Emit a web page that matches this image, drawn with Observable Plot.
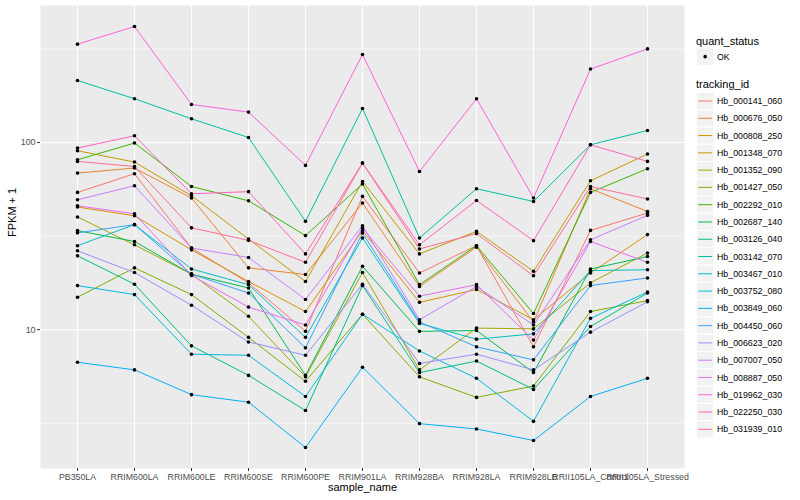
<!DOCTYPE html>
<html>
<head>
<meta charset="utf-8">
<script src="https://cdn.jsdelivr.net/npm/d3@7"></script>
<script src="https://cdn.jsdelivr.net/npm/@observablehq/plot@0.6"></script>
<style>
  body { margin: 0; background: #ffffff; }
  #wrap { position: relative; width: 800px; height: 500px; font-family: "Liberation Sans", Arial, Helvetica, sans-serif; }
</style>
</head>
<body>
<div id="wrap"></div>
<script>
// ---- data ----
const samples = ["PB350LA","RRIM600LA","RRIM600LE","RRIM600SE","RRIM600PE","RRIM901LA","RRIM928BA","RRIM928LA","RRIM928LB","RRII105LA_Control","RRII105LA_Stressed"];

const trackingIds = ["Hb_000141_060","Hb_000676_050","Hb_000808_250","Hb_001348_070","Hb_001352_090","Hb_001427_050","Hb_002292_010","Hb_002687_140","Hb_003126_040","Hb_003142_070","Hb_003467_010","Hb_003752_080","Hb_003849_060","Hb_004450_060","Hb_006623_020","Hb_007007_050","Hb_008887_050","Hb_019962_030","Hb_022250_030","Hb_031939_010"];

const seriesColors = ["#F8766D","#EA8331","#D89000","#C09B00","#A3A500","#7CAE00","#39B600","#00BB4E","#00BF7D","#00C1A3","#00BFC4","#00BAE0","#00B0F6","#35A2FF","#9590FF","#C77CFF","#E76BF3","#FA62DB","#FF62BC","#FF6C91"];

// FPKM + 1 per sample (order of `samples`)
const Hb_000141_060 = [54.1, 68.1, 27.3, 17.8, 9.8, 51.5, 20.1, 28.1, 8.1, 33.9, 42.0];
const Hb_000676_050 = [68.6, 73.0, 50.5, 21.4, 19.7, 47.5, 17.0, 27.6, 11.0, 56.6, 42.8];
const Hb_000808_250 = [45.2, 40.6, 26.7, 18.1, 12.5, 33.8, 14.0, 16.4, 11.3, 20.1, 32.2];
const Hb_001348_070 = [90.3, 78.6, 51.9, 30.5, 18.1, 61.9, 25.4, 33.5, 20.5, 62.4, 86.7];
const Hb_001352_090 = [40.0, 28.4, 19.8, 11.8, 5.6, 20.2, 6.1, 10.2, 10.1, 17.8, 25.7];
const Hb_001427_050 = [14.9, 21.4, 15.4, 9.1, 5.3, 12.1, 5.6, 4.35, 5.0, 12.5, 14.3];
const Hb_002292_010 = [80.8, 99.3, 58.2, 48.8, 31.8, 60.0, 17.4, 28.1, 12.2, 54.1, 72.4];
const Hb_002687_140 = [33.8, 29.6, 19.8, 16.7, 5.7, 21.8, 9.8, 9.9, 5.9, 21.1, 24.6];
const Hb_003126_040 = [24.8, 17.5, 8.2, 5.7, 3.7, 17.2, 5.9, 6.8, 4.8, 10.4, 15.7];
const Hb_003142_070 = [214.3, 171.2, 133.8, 106.3, 37.9, 151.9, 30.9, 56.6, 48.4, 97.2, 115.9];
const Hb_003467_010 = [28.1, 36.4, 21.1, 17.4, 9.1, 30.9, 10.8, 8.9, 9.5, 20.7, 20.9];
const Hb_003752_080 = [17.2, 15.4, 7.4, 7.3, 4.4, 12.1, 7.7, 5.5, 3.24, 11.5, 15.9];
const Hb_003849_060 = [6.7, 6.1, 4.5, 4.1, 2.35, 6.3, 3.15, 2.95, 2.56, 4.4, 5.5];
const Hb_004450_060 = [32.9, 36.4, 19.8, 15.7, 8.0, 32.8, 11.0, 8.1, 6.9, 17.2, 18.9];
const Hb_006623_020 = [26.4, 20.2, 13.5, 8.6, 7.3, 17.5, 6.6, 7.4, 6.1, 9.7, 14.1];
const Hb_007007_050 = [49.4, 58.7, 27.3, 24.3, 14.5, 35.9, 11.3, 17.0, 10.6, 30.2, 40.8];
const Hb_008887_050 = [45.9, 41.6, 19.5, 13.2, 10.6, 34.9, 15.1, 17.4, 8.8, 29.6, 22.9];
const Hb_019962_030 = [335, 416, 159.6, 145.3, 75.4, 295, 70.0, 171.2, 50.5, 246.6, 316];
const Hb_022250_030 = [93.3, 108.6, 53.2, 54.6, 25.4, 77.6, 28.4, 49.0, 29.9, 97.2, 79.2];
const Hb_031939_010 = [79.2, 74.4, 35.0, 30.0, 22.9, 77.6, 27.0, 32.6, 19.4, 58.2, 49.9];

const yMajorTicks = [10, 100];
const yMinorTicks = [Math.sqrt(10), Math.sqrt(1000), Math.sqrt(100000)];

// ---- build tidy table ----
const seriesValues = [Hb_000141_060, Hb_000676_050, Hb_000808_250, Hb_001348_070, Hb_001352_090, Hb_001427_050, Hb_002292_010, Hb_002687_140, Hb_003126_040, Hb_003142_070, Hb_003467_010, Hb_003752_080, Hb_003849_060, Hb_004450_060, Hb_006623_020, Hb_007007_050, Hb_008887_050, Hb_019962_030, Hb_022250_030, Hb_031939_010];

const table = trackingIds.flatMap((id, i) =>
  seriesValues[i].map((v, j) => ({ id, sample: samples[j], value: v }))
);

const logs = table.map(d => Math.log10(d.value));
const lo = d3.min(logs), hi = d3.max(logs), pad = (hi - lo) * 0.05;

const font = "Liberation Sans, Arial, Helvetica, sans-serif";

const chart = Plot.plot({
  width: 800,
  height: 500,
  marginLeft: 40,
  marginRight: 116,
  marginTop: 5,
  marginBottom: 32,
  style: { fontFamily: font, fontSize: "8.8px", background: "white", overflow: "visible" },
  x: { type: "point", domain: samples, padding: 0.6, label: null },
  y: { type: "log", domain: [10 ** (lo - pad), 10 ** (hi + pad)], label: null },
  color: { domain: trackingIds, range: seriesColors },
  marks: [
    Plot.frame({ fill: "#EBEBEB", stroke: null }),
    Plot.ruleY(yMinorTicks, { stroke: "white", strokeWidth: 0.55 }),
    Plot.ruleY(yMajorTicks, { stroke: "white", strokeWidth: 1.1 }),
    Plot.ruleX(samples, { stroke: "white", strokeWidth: 1.1 }),
    Plot.line(table, { x: "sample", y: "value", z: "id", stroke: "id", strokeWidth: 1 }),
    Plot.dot(table, { x: "sample", y: "value", r: 1.8, fill: "black", stroke: null }),
    Plot.axisX({ tickSize: 3, tickPadding: 2, stroke: "#333333", fill: "#4D4D4D", label: null }),
    Plot.axisY({ ticks: yMajorTicks, tickFormat: d => String(d), tickSize: 3, tickPadding: 2, stroke: "#333333", fill: "#4D4D4D", label: null }),
    Plot.text(["sample_name"], { text: d => d, frameAnchor: "bottom", dy: 22, fontSize: 11, fill: "black" }),
    Plot.text(["FPKM + 1"], { text: d => d, frameAnchor: "left", dx: -28, rotate: -90, fontSize: 11, fill: "black" })
  ]
});

const wrap = document.getElementById("wrap");
wrap.appendChild(chart);

// ---- legend (right side) ----
const leg = d3.select(wrap).append("svg")
  .attr("width", 110).attr("height", 500)
  .style("position", "absolute").style("left", "690px").style("top", "0px")
  .style("font-family", font);

leg.append("text").attr("x", 6).attr("y", 44.5).attr("font-size", 11).attr("fill", "black").text("quant_status");
leg.append("rect").attr("x", 6.5).attr("y", 48).attr("width", 17.28).attr("height", 17.28)
  .attr("fill", "#F2F2F2").attr("stroke", "white").attr("stroke-width", 1);
leg.append("circle").attr("cx", 15.14).attr("cy", 56.64).attr("r", 1.8).attr("fill", "black");
leg.append("text").attr("x", 27).attr("y", 56.64).attr("dy", "0.35em").attr("font-size", 8.8).attr("fill", "black").text("OK");

leg.append("text").attr("x", 6).attr("y", 88).attr("font-size", 11).attr("fill", "black").text("tracking_id");
const step = 17.28;
const g = leg.selectAll("g.item").data(trackingIds).join("g").attr("class", "item")
  .attr("transform", (d, i) => `translate(0, ${101 + i * step})`);
g.append("rect").attr("x", 6.5).attr("y", -step / 2).attr("width", step).attr("height", step)
  .attr("fill", "#F2F2F2").attr("stroke", "white").attr("stroke-width", 1);
g.append("line").attr("x1", 8.2).attr("x2", 22.1).attr("y1", 0).attr("y2", 0)
  .attr("stroke", (d, i) => seriesColors[i]).attr("stroke-width", 1);
g.append("text").attr("x", 27).attr("y", 0).attr("dy", "0.35em").attr("font-size", 8.8).attr("fill", "black").text(d => d);
</script>
</body>
</html>
